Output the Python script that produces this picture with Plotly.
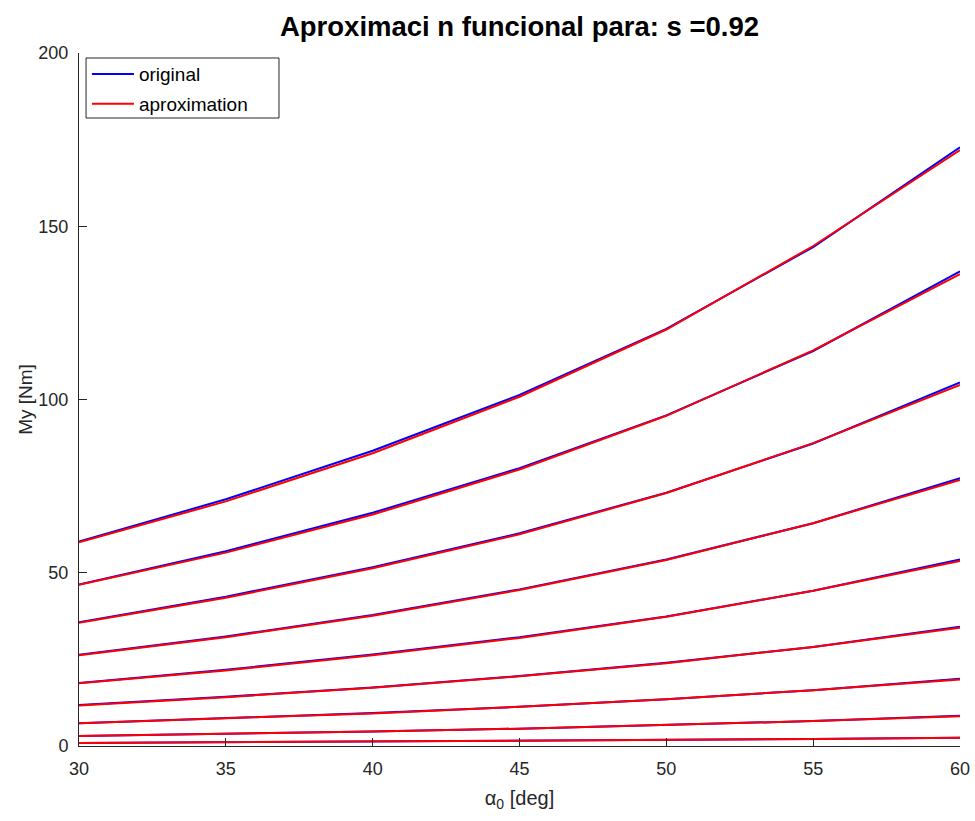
import plotly.graph_objects as go

# Pitch angle samples [deg]
alpha0 = [30, 35, 40, 45, 50, 55, 60]

# Moment My [Nm] for each curve: original model
original = [
    [59.0, 71.2, 85.2, 101.3, 120.4, 144.0, 172.8],
    [46.6, 56.2, 67.3, 80.2, 95.4, 114.0, 137.0],
    [35.7, 43.1, 51.6, 61.4, 73.1, 87.3, 104.9],
    [26.3, 31.6, 37.8, 45.2, 53.8, 64.3, 77.3],
    [18.2, 22.0, 26.4, 31.4, 37.4, 44.8, 53.8],
    [11.8, 14.2, 16.9, 20.2, 24.0, 28.6, 34.4],
    [6.6, 8.0, 9.5, 11.3, 13.5, 16.1, 19.4],
    [2.9, 3.5, 4.2, 5.0, 6.0, 7.2, 8.7],
    [0.9, 1.1, 1.3, 1.5, 1.8, 2.0, 2.4],
]

# Functional approximation of the same curves
approximation = [
    [58.8, 70.6, 84.5, 100.8, 120.2, 144.3, 172.0],
    [46.5, 55.8, 66.8, 79.8, 95.3, 114.2, 136.2],
    [35.6, 42.8, 51.3, 61.1, 73.0, 87.4, 104.2],
    [26.2, 31.4, 37.6, 45.0, 53.7, 64.3, 76.8],
    [18.1, 21.8, 26.2, 31.2, 37.3, 44.8, 53.4],
    [11.7, 14.1, 16.8, 20.1, 23.9, 28.6, 34.1],
    [6.6, 7.9, 9.4, 11.3, 13.5, 16.1, 19.2],
    [2.9, 3.5, 4.2, 5.0, 6.0, 7.2, 8.6],
    [0.9, 1.1, 1.3, 1.5, 1.8, 2.0, 2.4],
]

x_ticks = [30, 35, 40, 45, 50, 55, 60]
y_ticks = [0, 50, 100, 150, 200]

FONT = "Liberation Sans, Arial, Helvetica, sans-serif"
AXIS_COLOR = "#262626"

fig = go.Figure()

for i, ys in enumerate(original):
    fig.add_trace(go.Scatter(
        x=alpha0, y=ys, mode="lines",
        line=dict(color="#0000ff", width=2),
        name="original", legendgroup="original",
        showlegend=(i == 0),
    ))

for i, ys in enumerate(approximation):
    fig.add_trace(go.Scatter(
        x=alpha0, y=ys, mode="lines",
        line=dict(color="#ff0000", width=2),
        name="aproximation", legendgroup="aproximation",
        showlegend=(i == 0),
    ))

# Framed legend box (wider than the entries, with right padding)
fig.add_shape(
    type="rect", xref="paper", yref="paper",
    x0=0.0080, x1=0.2270, y0=0.9062, y1=0.9928,
    line=dict(color="#262626", width=1), fillcolor="white", layer="below",
)

fig.update_layout(
    width=975, height=821,
    margin=dict(l=79, r=15, t=53, b=75, autoexpand=False),
    paper_bgcolor="white", plot_bgcolor="white",
    font=dict(family=FONT, size=18, color=AXIS_COLOR),
    title=dict(
        text="<b>Aproximaci n funcional para: s =0.92</b>",
        x=(79 + 960) / 2 / 975, xanchor="center",
        y=1 - 26 / 821, yanchor="middle",
        font=dict(family=FONT, size=27.5, color="#000000"),
    ),
    legend=dict(
        x=0.009, y=0.997, xanchor="left", yanchor="top",
        bgcolor="rgba(0,0,0,0)", borderwidth=0,
        font=dict(family=FONT, size=19, color="#000000"),
        tracegroupgap=2, itemwidth=42,
    ),
    xaxis=dict(
        range=[30, 60], tickvals=x_ticks,
        ticks="inside", ticklen=8, tickcolor=AXIS_COLOR,
        ticklabelstandoff=6,
        showline=True, linecolor=AXIS_COLOR, linewidth=1,
        showgrid=False, zeroline=False,
        title=dict(text="α<sub>0</sub> [deg]", standoff=13,
                   font=dict(family=FONT, size=20, color=AXIS_COLOR)),
    ),
    yaxis=dict(
        range=[0, 200], tickvals=y_ticks,
        ticks="inside", ticklen=8, tickcolor=AXIS_COLOR,
        ticklabelstandoff=6,
        showline=True, linecolor=AXIS_COLOR, linewidth=1,
        showgrid=False, zeroline=False,
        title=dict(text="My [Nm]", standoff=0,
                   font=dict(family=FONT, size=19, color=AXIS_COLOR)),
    ),
)

fig.write_html("out.html")
